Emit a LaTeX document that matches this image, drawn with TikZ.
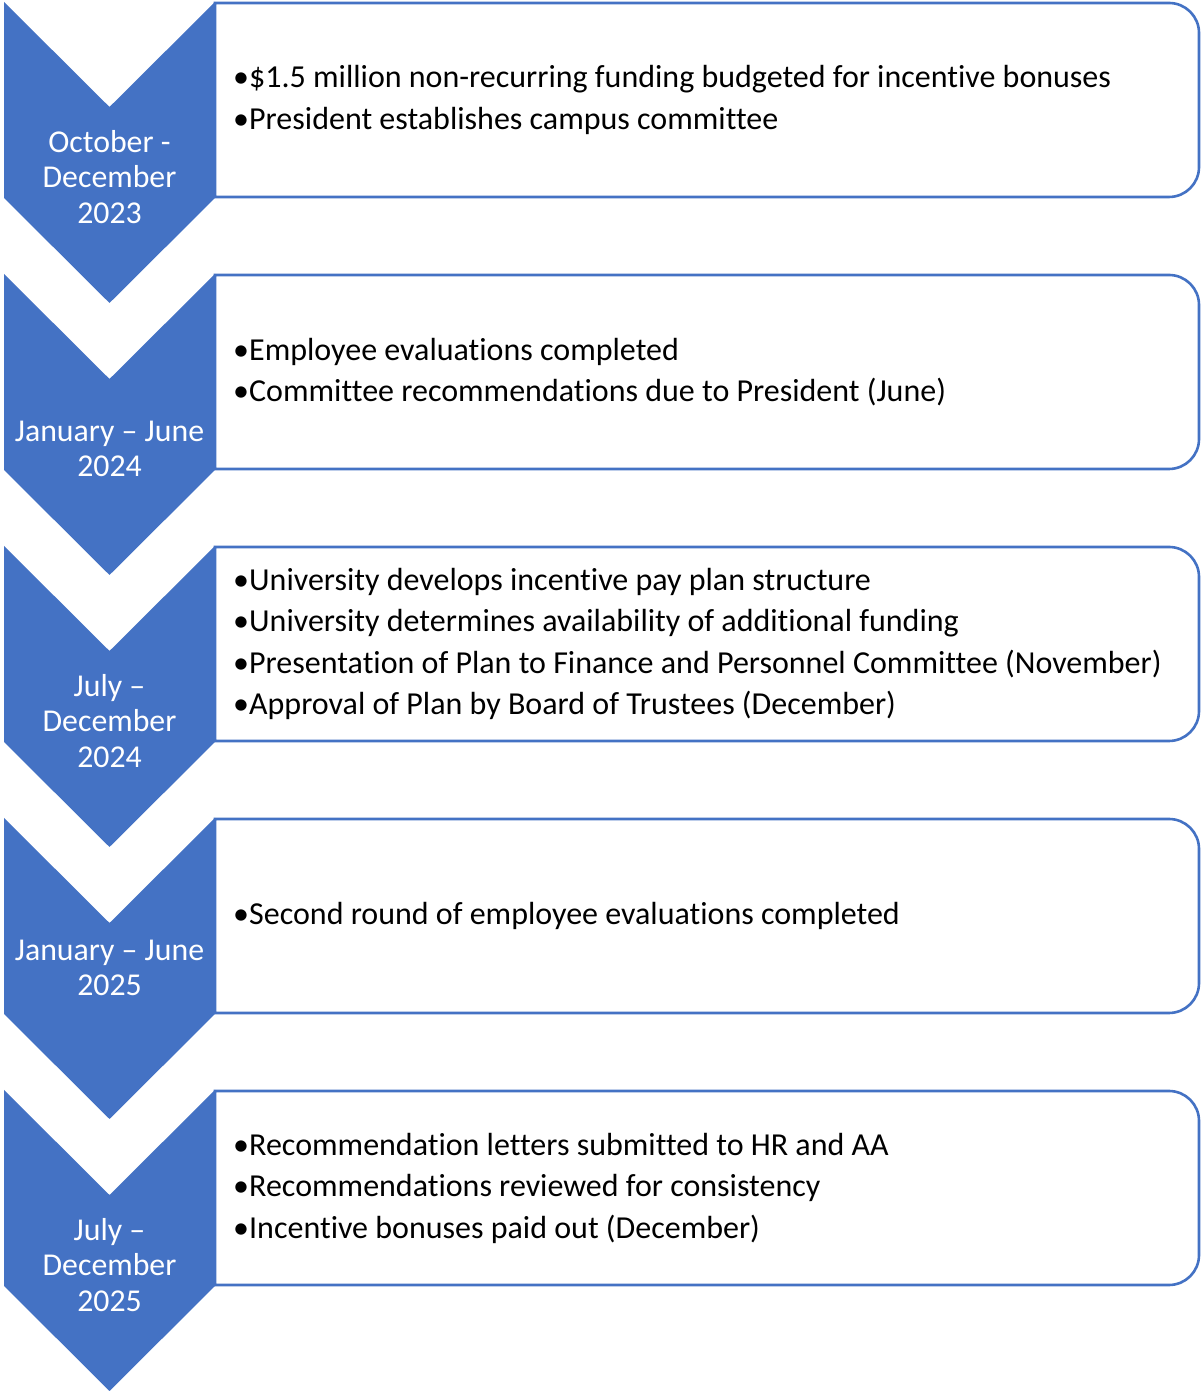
\documentclass[tikz,border=0pt]{standalone}
\usepackage{fontspec}
\setmainfont{Carlito}[Ligatures={NoCommon}]
\definecolor{accent}{HTML}{4472C4}
\tikzset{
  chev/.style={fill=accent, draw=none},
  boxline/.style={draw=accent, line width=2.6pt, fill=white},
  chevtext/.style={text=white, align=center, inner sep=0pt, font=\fontsize{31.8}{35.5}\selectfont},
  boxtext/.style={text=black, align=left, anchor=west, inner sep=0pt, font=\fontsize{32}{41.5}\selectfont},
}
\newcommand\bl{\makebox[16pt][l]{\textbullet}}
\newcommand\stage[4]{%
  \pgfmathsetmacro\T{1391-(2+272*#1)}
  \draw[boxline] (215,\T-1) -- (1169,\T-1) arc[start angle=90,end angle=0,radius=30]
     -- (1199,\T-165) arc[start angle=0,end angle=-90,radius=30] -- (215,\T-195) -- cycle;
  \fill[chev] (4,\T) -- (109.5,\T-105) -- (215,\T) -- (215,\T-196) -- (109.5,\T-301) -- (4,\T-196) -- cycle;
  \node[chevtext] (chev#1) at (109.5,\T-#2) {#3};
  \node[boxtext] (box#1) at (233,\T-98) {#4};
}
\begin{document}
\begin{tikzpicture}[x=1pt,y=1pt]
\useasboundingbox[fill=white] (0,0) rectangle (1201,1391);
\stage{0}{175}{October -\\December\\2023}{\bl\$1.5 million non-recurring funding budgeted for incentive bonuses\\\bl President establishes campus committee}
\stage{1}{175}{January -- June\\2024}{\bl Employee evaluations completed\\\bl Committee recommendations due to President (June)}
\stage{2}{175}{July --\\December\\2024}{\bl University develops incentive pay plan structure\\\bl University determines availability of additional funding\\\bl Presentation of Plan to Finance and Personnel Committee (November)\\\bl Approval of Plan by Board of Trustees (December)}
\stage{3}{150}{January -- June\\2025}{\bl Second round of employee evaluations completed}
\stage{4}{175}{July --\\December\\2025}{\bl Recommendation letters submitted to HR and AA\\\bl Recommendations reviewed for consistency\\\bl Incentive bonuses paid out (December)}
\end{tikzpicture}
\end{document}
